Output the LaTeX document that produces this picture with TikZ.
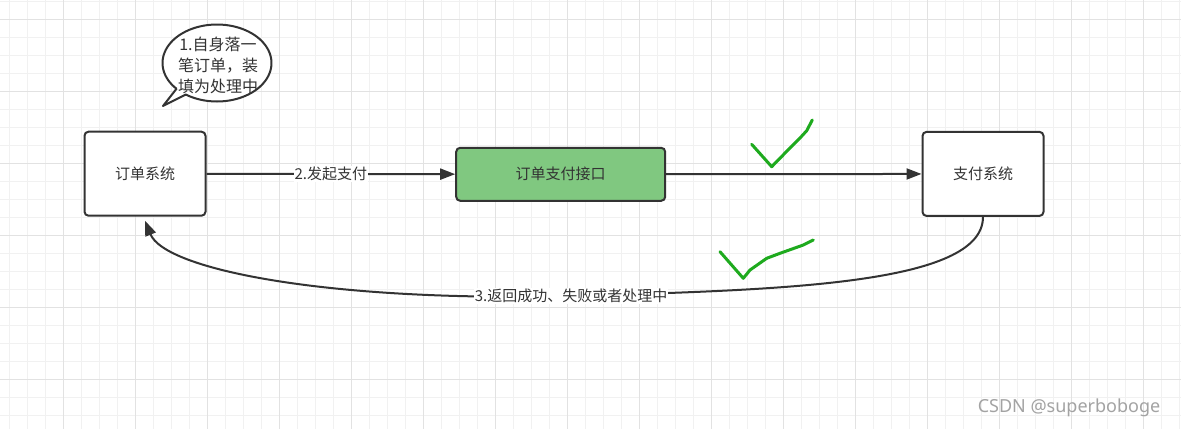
\documentclass[tikz,border=0pt]{standalone}
\usepackage{fontspec}
\setmainfont{Noto Sans CJK SC}
\newfontfamily\markfont{Noto Sans}
\usetikzlibrary{arrows.meta}
\definecolor{lineGray}{HTML}{333333}
\definecolor{payGreen}{HTML}{80C880}
\definecolor{gridMinor}{HTML}{F1F1F1}
\definecolor{gridMajor}{HTML}{E2E2E2}
\definecolor{tickGreen}{RGB}{30,170,30}
\definecolor{markGray}{HTML}{A3A3A3}

\begin{document}
\begin{tikzpicture}[x=1pt, y=-1pt,
					sysbox/.style={draw=lineGray, line width=2pt, rounded corners=4pt, fill=white, minimum width=121pt, minimum height=84pt, text=lineGray, font=\fontsize{15}{18}\selectfont},
					conn/.style={draw=lineGray, line width=2pt, -{Triangle[length=15pt, width=11pt]}},
					lbl/.style={fill=white, inner sep=1pt, text=lineGray, font=\fontsize{15}{18}\selectfont},
					tick/.style={draw=tickGreen, line width=3pt, line cap=round, line join=round},
					gridminor/.style={draw=gridMinor, line width=1pt},
					gridmajor/.style={draw=gridMajor, line width=1pt}]
					% canvas and grid
					\fill[white] (0,0) rectangle (1181,429);
					\useasboundingbox (0,0) rectangle (1181,429);
					\foreach \gx in {0,...,65} \draw[gridminor] ({9.7+18*\gx},0) -- ({9.7+18*\gx},429);
					\foreach \gy in {0,...,23} \draw[gridminor] (0,{1+18*\gy}) -- (1181,{1+18*\gy});
					\foreach \gx in {0,...,15} \draw[gridmajor] ({63.7+72*\gx},0) -- ({63.7+72*\gx},429);
					\foreach \gy in {0,...,5} \draw[gridmajor] (0,{19+72*\gy}) -- (1181,{19+72*\gy});
					% systems
					\node[sysbox] (order) at (145,173.7) {订单系统};
					\node[sysbox, fill=payGreen, minimum width=209pt, minimum height=53pt] (api) at (560.7,174.3) {订单支付接口};
					\node[sysbox] (pay) at (983,173.9) {支付系统};
					% speech bubble
					\draw[draw=lineGray, line width=2pt, fill=white, line join=round]
						plot[domain=138:485, samples=90] ({217+54.5*cos(\x)}, {63+38.5*sin(\x)}) -- (163,106) -- cycle;
					\node[text=lineGray, align=center, font=\fontsize{16}{21}\selectfont] (note) at (218,65.5) {1.自身落一\\笔订单，装\\填为处理中};
					% connectors
					\draw[conn] (order) -- node[lbl] {2.发起支付} (api);
					\draw[conn] (api) -- (pay);
					\draw[conn] (pay.south) .. controls (983,285) and (780,290) .. (571,296)
						node[lbl] (back) {3.返回成功、失败或者处理中}
						.. controls (330,302) and (165,270) .. ([yshift=-4pt]order.south);
					% hand-drawn ticks
					\draw[tick] (751.7,144.3) -- (771.7,166.7) -- (788,150) -- (800,138) -- (806.7,130.7) -- (812.3,120);
					\draw[tick] (720,251.7) -- (743.3,278.3) -- (750,270) -- (766.7,258.3) -- (780,253.3) -- (803.3,245) -- (813.3,240);
					% watermark
					\node[text=markGray, font=\markfont\fontsize{18}{20}\selectfont] (mark) at (1069,408) {CSDN @superboboge};
				\end{tikzpicture}
\end{document}
